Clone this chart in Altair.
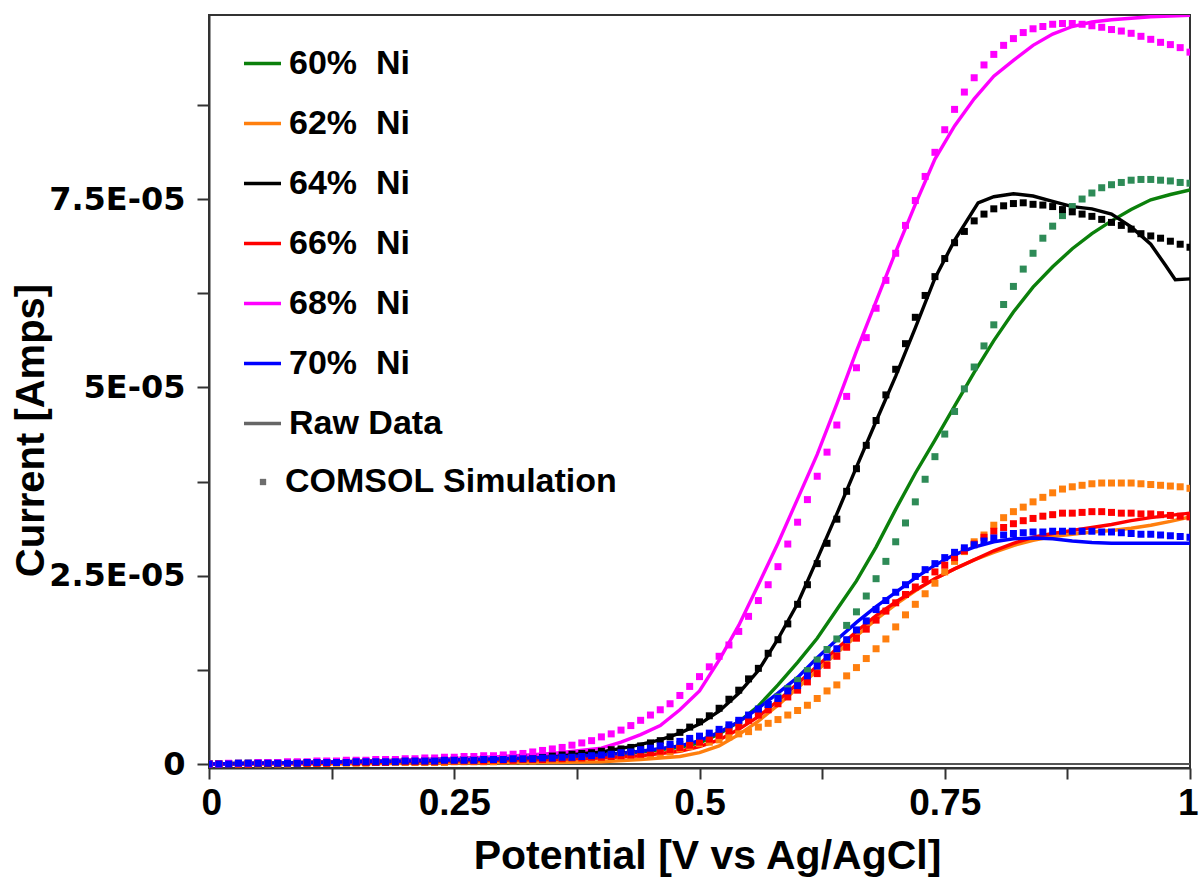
import altair as alt
import pandas as pd

# ---------------- data (current values in units of 1E-05 A) ----------------
SERIES = ["60%\u00a0\u00a0Ni", "62%\u00a0\u00a0Ni", "64%\u00a0\u00a0Ni",
          "66%\u00a0\u00a0Ni", "68%\u00a0\u00a0Ni", "70%\u00a0\u00a0Ni"]
RAW_LABEL = "Raw Data"
SIM_LABEL = "COMSOL Simulation"
LINE_COLORS = ["#0b800b", "#ff7f0e", "#000000", "#ff0000", "#ff00ff", "#0000ff"]
SIM_COLORS = ["#2e8b57", "#ff7f0e", "#000000", "#ff0000", "#ff00ff", "#0000ff"]
RAW_COLOR = "#666666"

# raw data (solid lines)
V_STD = [0, 0.1, 0.2, 0.3, 0.35, 0.4, 0.44, 0.48, 0.5, 0.52, 0.54, 0.56, 0.58, 0.6, 0.62, 0.64,
         0.66, 0.68, 0.7, 0.72, 0.74, 0.76, 0.78, 0.8, 0.82, 0.84, 0.86, 0.88, 0.9, 0.92, 0.94,
         0.96, 0.98, 1.0]
RAW_60 = [0, 0.02, 0.04, 0.07, 0.09, 0.12, 0.16, 0.22, 0.28, 0.40, 0.56, 0.77, 1.05, 1.35, 1.67,
          2.05, 2.43, 2.88, 3.38, 3.86, 4.30, 4.75, 5.20, 5.62, 6.00, 6.33, 6.60, 6.84, 7.04,
          7.21, 7.36, 7.49, 7.56, 7.62]
RAW_62 = [0, 0.00, 0.01, 0.02, 0.02, 0.03, 0.06, 0.10, 0.15, 0.24, 0.39, 0.57, 0.78, 1.01, 1.24,
          1.47, 1.70, 1.92, 2.12, 2.30, 2.46, 2.59, 2.71, 2.81, 2.90, 2.97, 3.02, 3.05, 3.08,
          3.10, 3.13, 3.17, 3.22, 3.28]
RAW_66 = [0, 0.01, 0.03, 0.05, 0.06, 0.08, 0.11, 0.17, 0.23, 0.32, 0.46, 0.63, 0.84, 1.07, 1.30,
          1.53, 1.76, 1.97, 2.15, 2.31, 2.46, 2.59, 2.71, 2.83, 2.93, 3.01, 3.06, 3.10, 3.14,
          3.18, 3.23, 3.27, 3.30, 3.33]
RAW_70 = [0, 0.02, 0.04, 0.07, 0.09, 0.12, 0.17, 0.24, 0.31, 0.42, 0.56, 0.74, 0.94, 1.15, 1.41,
          1.65, 1.88, 2.09, 2.28, 2.47, 2.64, 2.78, 2.88, 2.95, 2.99, 3.00, 2.99, 2.96, 2.94,
          2.93, 2.93, 2.93, 2.93, 2.93]
V_68 = [0, 0.05, 0.1, 0.15, 0.2, 0.25, 0.3, 0.35, 0.4, 0.42, 0.44, 0.46, 0.48, 0.5, 0.52, 0.54,
        0.56, 0.58, 0.6, 0.62, 0.64, 0.66, 0.68, 0.7, 0.72, 0.74, 0.76, 0.78, 0.8, 0.82, 0.84,
        0.86, 0.88, 0.9, 0.92, 0.94, 0.96, 0.98, 1.0]
RAW_68 = [0.00, 0.01, 0.02, 0.03, 0.05, 0.07, 0.10, 0.14, 0.21, 0.29, 0.39, 0.51, 0.72, 0.97,
          1.38, 1.84, 2.38, 2.93, 3.52, 4.11, 4.78, 5.48, 6.14, 6.80, 7.43, 8.03, 8.47, 8.83,
          9.13, 9.34, 9.54, 9.69, 9.79, 9.85, 9.88, 9.90, 9.92, 9.93, 9.94]
V_64 = [0, 0.1, 0.2, 0.3, 0.35, 0.4, 0.43, 0.46, 0.48, 0.5, 0.52, 0.54, 0.56, 0.58, 0.6, 0.62,
        0.64, 0.66, 0.68, 0.7, 0.72, 0.74, 0.76, 0.784, 0.8, 0.82, 0.84, 0.86, 0.88, 0.9, 0.92,
        0.94, 0.96, 0.975, 0.985, 1.0]
RAW_64 = [0, 0.02, 0.05, 0.09, 0.12, 0.16, 0.23, 0.32, 0.41, 0.53, 0.70, 0.94, 1.24, 1.66, 2.13,
          2.72, 3.32, 3.94, 4.55, 5.15, 5.79, 6.45, 6.95, 7.45, 7.53, 7.57, 7.54, 7.47, 7.40,
          7.37, 7.30, 7.13, 6.90, 6.62, 6.43, 6.44]

# COMSOL simulation (square markers)
SIM_V = [0.00, 0.01, 0.02, 0.03, 0.04, 0.05, 0.06, 0.07, 0.08, 0.09,
         0.10, 0.11, 0.12, 0.13, 0.14, 0.15, 0.16, 0.17, 0.18, 0.19,
         0.20, 0.21, 0.22, 0.23, 0.24, 0.25, 0.26, 0.27, 0.28, 0.29,
         0.30, 0.31, 0.32, 0.33, 0.34, 0.35, 0.36, 0.37, 0.38, 0.39,
         0.40, 0.41, 0.42, 0.43, 0.44, 0.45, 0.46, 0.47, 0.48, 0.49,
         0.50, 0.51, 0.52, 0.53, 0.54, 0.55, 0.56, 0.57, 0.58, 0.59,
         0.60, 0.61, 0.62, 0.63, 0.64, 0.65, 0.66, 0.67, 0.68, 0.69,
         0.70, 0.71, 0.72, 0.73, 0.74, 0.75, 0.76, 0.77, 0.78, 0.79,
         0.80, 0.81, 0.82, 0.83, 0.84, 0.85, 0.86, 0.87, 0.88, 0.89,
         0.90, 0.91, 0.92, 0.93, 0.94, 0.95, 0.96, 0.97, 0.98, 0.99,
         1.00]
SIM_60 = [0.00, 0.00, 0.00, 0.00, 0.01, 0.01, 0.01, 0.01, 0.01, 0.01,
          0.01, 0.01, 0.02, 0.02, 0.02, 0.02, 0.02, 0.02, 0.03, 0.03,
          0.03, 0.03, 0.03, 0.04, 0.04, 0.04, 0.04, 0.05, 0.05, 0.05,
          0.06, 0.06, 0.06, 0.07, 0.07, 0.08, 0.08, 0.09, 0.10, 0.11,
          0.12, 0.13, 0.14, 0.15, 0.17, 0.19, 0.21, 0.23, 0.26, 0.29,
          0.33, 0.37, 0.42, 0.48, 0.55, 0.62, 0.70, 0.79, 0.89, 1.00,
          1.11, 1.24, 1.38, 1.52, 1.66, 1.84, 2.02, 2.23, 2.46, 2.69,
          2.95, 3.20, 3.48, 3.78, 4.08, 4.38, 4.68, 4.98, 5.27, 5.55,
          5.83, 6.10, 6.34, 6.57, 6.78, 6.98, 7.14, 7.28, 7.40, 7.50,
          7.58, 7.65, 7.69, 7.72, 7.75, 7.76, 7.76, 7.75, 7.74, 7.72,
          7.71]
SIM_62 = [0.00, 0.00, 0.00, 0.00, 0.00, 0.00, 0.00, 0.00, 0.00, 0.01,
          0.01, 0.01, 0.01, 0.01, 0.01, 0.01, 0.01, 0.02, 0.02, 0.02,
          0.02, 0.02, 0.02, 0.02, 0.02, 0.03, 0.03, 0.03, 0.03, 0.03,
          0.04, 0.04, 0.04, 0.04, 0.05, 0.05, 0.05, 0.06, 0.06, 0.07,
          0.07, 0.08, 0.09, 0.10, 0.11, 0.12, 0.14, 0.16, 0.20, 0.23,
          0.27, 0.29, 0.32, 0.36, 0.40, 0.43, 0.49, 0.54, 0.59, 0.65,
          0.71, 0.78, 0.87, 0.97, 1.05, 1.17, 1.28, 1.40, 1.53, 1.66,
          1.82, 1.98, 2.12, 2.26, 2.40, 2.55, 2.69, 2.82, 2.95, 3.04,
          3.17, 3.27, 3.35, 3.41, 3.48, 3.54, 3.60, 3.65, 3.68, 3.70,
          3.72, 3.73, 3.73, 3.73, 3.73, 3.72, 3.71, 3.70, 3.69, 3.68,
          3.66]
SIM_64 = [0.00, 0.00, 0.00, 0.01, 0.01, 0.01, 0.01, 0.01, 0.02, 0.02,
          0.02, 0.02, 0.02, 0.03, 0.03, 0.03, 0.03, 0.03, 0.04, 0.04,
          0.04, 0.04, 0.05, 0.05, 0.05, 0.06, 0.06, 0.06, 0.07, 0.07,
          0.08, 0.08, 0.09, 0.09, 0.10, 0.11, 0.12, 0.13, 0.14, 0.15,
          0.17, 0.19, 0.20, 0.22, 0.24, 0.28, 0.31, 0.36, 0.42, 0.49,
          0.56, 0.64, 0.74, 0.86, 0.98, 1.13, 1.27, 1.47, 1.65, 1.86,
          2.12, 2.38, 2.66, 2.93, 3.25, 3.62, 3.92, 4.23, 4.56, 4.90,
          5.24, 5.58, 5.93, 6.22, 6.47, 6.71, 6.92, 7.07, 7.21, 7.30,
          7.37, 7.41, 7.44, 7.45, 7.43, 7.42, 7.40, 7.36, 7.33, 7.30,
          7.27, 7.23, 7.19, 7.15, 7.10, 7.04, 7.01, 6.98, 6.94, 6.90,
          6.86]
SIM_66 = [0.00, 0.00, 0.00, 0.00, 0.00, 0.01, 0.01, 0.01, 0.01, 0.01,
          0.01, 0.01, 0.01, 0.02, 0.02, 0.02, 0.02, 0.02, 0.02, 0.03,
          0.03, 0.03, 0.03, 0.03, 0.04, 0.04, 0.04, 0.04, 0.04, 0.05,
          0.05, 0.05, 0.06, 0.06, 0.06, 0.07, 0.07, 0.08, 0.08, 0.09,
          0.09, 0.10, 0.11, 0.12, 0.13, 0.15, 0.17, 0.19, 0.22, 0.25,
          0.29, 0.33, 0.38, 0.44, 0.51, 0.58, 0.65, 0.72, 0.80, 0.89,
          0.98, 1.09, 1.20, 1.31, 1.43, 1.55, 1.67, 1.79, 1.91, 2.03,
          2.14, 2.25, 2.35, 2.45, 2.55, 2.64, 2.74, 2.83, 2.92, 3.01,
          3.09, 3.14, 3.19, 3.23, 3.26, 3.29, 3.31, 3.33, 3.33, 3.34,
          3.35, 3.35, 3.34, 3.33, 3.33, 3.32, 3.32, 3.31, 3.30, 3.29,
          3.28]
SIM_68 = [0.00, 0.00, 0.01, 0.01, 0.01, 0.02, 0.02, 0.02, 0.03, 0.03,
          0.03, 0.04, 0.04, 0.04, 0.05, 0.05, 0.05, 0.06, 0.06, 0.06,
          0.07, 0.07, 0.08, 0.08, 0.09, 0.09, 0.10, 0.10, 0.11, 0.11,
          0.12, 0.13, 0.14, 0.16, 0.18, 0.20, 0.22, 0.25, 0.28, 0.31,
          0.36, 0.40, 0.45, 0.51, 0.58, 0.65, 0.72, 0.80, 0.91, 1.03,
          1.16, 1.29, 1.43, 1.58, 1.76, 1.96, 2.17, 2.38, 2.62, 2.92,
          3.21, 3.51, 3.82, 4.14, 4.50, 4.88, 5.26, 5.66, 6.05, 6.42,
          6.78, 7.15, 7.48, 7.80, 8.12, 8.42, 8.69, 8.92, 9.11, 9.28,
          9.42, 9.54, 9.63, 9.71, 9.76, 9.79, 9.82, 9.83, 9.83, 9.82,
          9.80, 9.78, 9.75, 9.73, 9.70, 9.66, 9.62, 9.58, 9.55, 9.51,
          9.45]
SIM_70 = [0.00, 0.00, 0.00, 0.01, 0.01, 0.01, 0.01, 0.01, 0.01, 0.01,
          0.02, 0.02, 0.02, 0.02, 0.02, 0.03, 0.03, 0.03, 0.03, 0.03,
          0.04, 0.04, 0.04, 0.04, 0.05, 0.05, 0.05, 0.05, 0.06, 0.06,
          0.06, 0.07, 0.07, 0.07, 0.08, 0.08, 0.09, 0.09, 0.10, 0.11,
          0.12, 0.13, 0.15, 0.16, 0.19, 0.21, 0.24, 0.26, 0.30, 0.34,
          0.37, 0.41, 0.46, 0.52, 0.58, 0.65, 0.73, 0.79, 0.87, 0.97,
          1.04, 1.17, 1.30, 1.42, 1.53, 1.65, 1.78, 1.90, 2.05, 2.17,
          2.28, 2.38, 2.49, 2.58, 2.66, 2.74, 2.81, 2.87, 2.91, 2.96,
          3.00, 3.04, 3.06, 3.07, 3.08, 3.08, 3.09, 3.09, 3.09, 3.09,
          3.09, 3.08, 3.08, 3.07, 3.06, 3.05, 3.05, 3.04, 3.03, 3.02,
          3.01]

X_TICKS = [0, 0.125, 0.25, 0.375, 0.5, 0.625, 0.75, 0.875, 1]
Y_TICKS = [0, 1.25, 2.5, 3.75, 5, 6.25, 7.5, 8.75]

# ---------------- tables ----------------
raw_sets = [(V_STD, RAW_60), (V_STD, RAW_62), (V_64, RAW_64),
            (V_STD, RAW_66), (V_68, RAW_68), (V_STD, RAW_70)]
rows = []
for s, (vs, ys) in zip(SERIES, raw_sets):
    for v, y in zip(vs, ys):
        rows.append({"series": s, "V": v, "I": y})
df_raw = pd.DataFrame(rows)

sim_sets = [SIM_60, SIM_62, SIM_64, SIM_66, SIM_68, SIM_70]
rows = []
for s, col, ys in zip(SERIES, SIM_COLORS, sim_sets):
    for v, y in zip(SIM_V, ys):
        rows.append({"series": s, "V": v, "I": y, "col": col, "kind": SIM_LABEL})
df_sim = pd.DataFrame(rows)

df_zero = pd.DataFrame({"I": [0.0]})

FONT = "Liberation Sans, Arial, Helvetica, sans-serif"

x_scale = alt.Scale(domain=[0, 1], nice=False, zero=False)
y_scale = alt.Scale(domain=[-0.053, 9.943], nice=False, zero=False)

x_axis = alt.Axis(
    values=X_TICKS,
    labelExpr="round(datum.value * 8) % 2 == 0 ? format(datum.value, '.2~f') : ''",
    grid=False, tickSize=11, tickWidth=2, tickColor="#333333",
    domainColor="#333333", domainWidth=2,
    labelFont=FONT, labelFontWeight="bold", labelFontSize=37, labelColor="#000000",
    labelPadding=6, labelFlush=True, labelFlushOffset=8, labelOverlap=False,
    title="Potential [V vs Ag/AgCl]", titleFont=FONT, titleFontWeight="bold",
    titleFontSize=41, titleColor="#000000", titleX=498, titleY=100,
    titleBaseline="alphabetic", titleAlign="center",
)
y_axis = alt.Axis(
    values=Y_TICKS,
    labelExpr=("abs(datum.value) < 0.01 ? '0' : abs(datum.value - 2.5) < 0.01 ? '2.5E-05' : "
               "abs(datum.value - 5) < 0.01 ? '5E-05' : abs(datum.value - 7.5) < 0.01 ? '7.5E-05' : ''"),
    grid=False, tickSize=12, tickWidth=2, tickColor="#333333",
    domainColor="#333333", domainWidth=2,
    labelFont="DejaVu Sans", labelFontWeight="bold", labelFontSize=32, labelColor="#000000",
    labelPadding=12, labelFlush=False, labelOverlap=False,
    title="Current [Amps]", titleFont=FONT, titleFontWeight="bold", titleFontSize=40,
    titleColor="#000000", titleX=-166, titleY=415, titleAngle=270,
    titleBaseline="alphabetic", titleAlign="center",
)

zero_rule = alt.Chart(df_zero).mark_rule(color="#555555", strokeWidth=2).encode(
    y=alt.Y("I:Q", scale=y_scale, axis=y_axis)
)

lines = alt.Chart(df_raw).mark_line(strokeWidth=3.4, clip=True).encode(
    x=alt.X("V:Q", scale=x_scale, axis=x_axis),
    y=alt.Y("I:Q", scale=y_scale, axis=y_axis),
    color=alt.Color(
        "series:N",
        scale=alt.Scale(domain=SERIES + [RAW_LABEL], range=LINE_COLORS + [RAW_COLOR]),
        legend=alt.Legend(
            title=None, orient="none", legendX=33, legendY=28, padding=0,
            symbolType="stroke", symbolStrokeWidth=3.4, symbolSize=1369,
            labelFont=FONT, labelFontWeight="bold", labelFontSize=34, labelColor="#000000",
            labelOffset=6, labelLimit=500, rowPadding=22,
        ),
    ),
    order=alt.Order("V:Q"),
)

points = alt.Chart(df_sim).mark_point(
    shape="square", filled=True, size=49, opacity=1, strokeWidth=0, clip=True
).encode(
    x=alt.X("V:Q", scale=x_scale, axis=x_axis),
    y=alt.Y("I:Q", scale=y_scale, axis=y_axis),
    fill=alt.Fill("col:N", scale=None, legend=None),
    shape=alt.Shape(
        "kind:N",
        scale=alt.Scale(domain=[SIM_LABEL], range=["square"]),
        legend=alt.Legend(
            title=None, orient="none", legendX=37, legendY=450, padding=0,
            symbolSize=40, symbolFillColor="#6d6d6d", symbolStrokeColor="#6d6d6d",
            symbolStrokeWidth=0, symbolOpacity=1,
            labelFont=FONT, labelFontWeight="bold", labelFontSize=34, labelColor="#000000",
            labelOffset=5, labelLimit=500,
        ),
    ),
)

chart = alt.layer(zero_rule, lines, points).properties(
    width=981, height=753,
    autosize=alt.AutoSizeParams(type="none"),
    padding={"left": 209, "top": 15, "right": 9, "bottom": 112},
    background="white",
).configure_view(stroke="#333333", strokeWidth=2)

chart.save("out.html", embed_options={"renderer": "svg", "actions": False})
